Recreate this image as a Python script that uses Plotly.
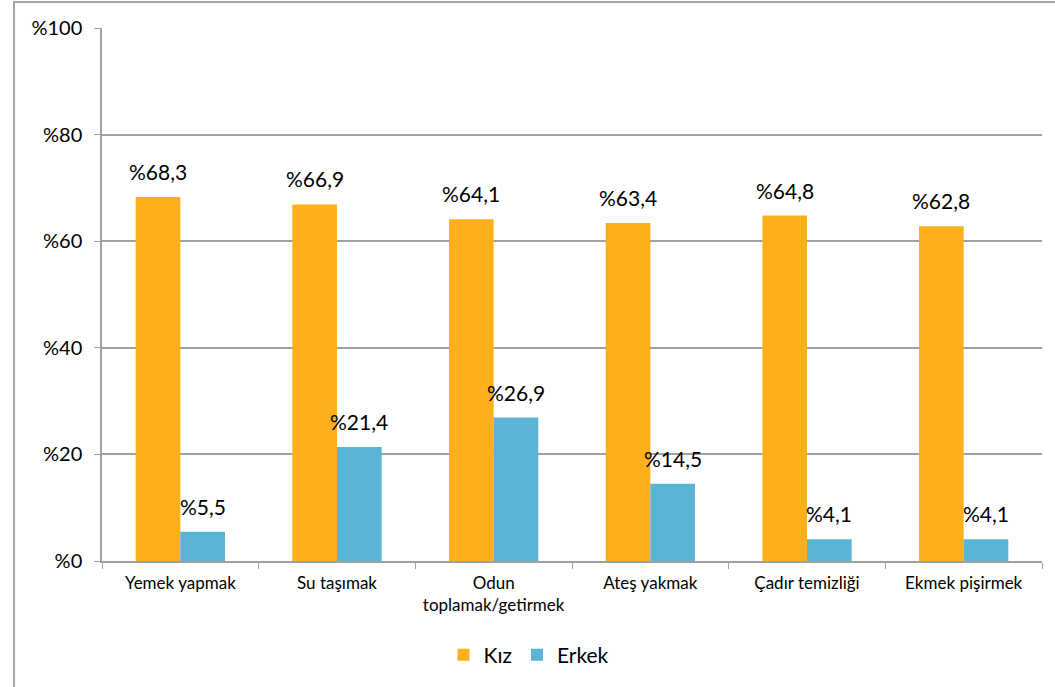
import plotly.graph_objects as go

categories = ["Yemek yapmak", "Su taşımak", "Odun<br>toplamak/getirmek", "Ateş yakmak", "Çadır temizliği", "Ekmek pişirmek"]
kiz = [68.3, 66.9, 64.1, 63.4, 64.8, 62.8]
erkek = [5.5, 21.4, 26.9, 14.5, 4.1, 4.1]
y_ticks = [0, 20, 40, 60, 80, 100]
y_tick_labels = ["%0", "%20", "%40", "%60", "%80", "%100"]

ORANGE = "#FDB01B"
BLUE = "#5BB4D4"
FONT = "Lato"

def fmt(v):
    return "%" + f"{v:.1f}".replace(".", ",")

fig = go.Figure()
fig.add_trace(go.Bar(name="Kız", x=categories, y=kiz, marker_color=ORANGE, marker_line_width=0))
fig.add_trace(go.Bar(name="Erkek", x=categories, y=erkek, marker_color=BLUE, marker_line_width=0))

W, H = 1055, 687
ml, mr, mt, mb = 102, 13, 28, 126
plot_w = W - ml - mr
plot_h = H - mt - mb
bar_w = plot_w / len(categories) * (1 - 0.43) / 2

annotations = []
for series, sign in ((kiz, -1), (erkek, 1)):
    for c, v in zip(categories, series):
        annotations.append(dict(x=c, y=v, xref="x", yref="y", text=fmt(v), showarrow=False,
                                xshift=sign * bar_w / 2, yshift=11, yanchor="bottom",
                                font=dict(family=FONT, size=21, color="#000000")))

fig.add_shape(type="rect", xref="paper", yref="paper",
              x0=(14 - ml) / plot_w, x1=(W + 20 - ml) / plot_w,
              y0=(H - mb - (H + 20)) / plot_h, y1=(H - mb - 2) / plot_h,
              line=dict(color="#A6A6A6", width=2), fillcolor="rgba(0,0,0,0)", layer="below")

fig.update_layout(
    width=W, height=H,
    margin=dict(l=ml, r=mr, t=mt, b=mb),
    barmode="group", bargap=0.43, bargroupgap=0,
    plot_bgcolor="white", paper_bgcolor="white",
    font=dict(family=FONT, color="#000000"),
    annotations=annotations,
    legend=dict(orientation="h", x=(529 - ml) / plot_w, xanchor="center",
                y=-(655 - (H - mb)) / plot_h, yanchor="middle",
                font=dict(family=FONT, size=21), itemwidth=30, tracegroupgap=0),
    xaxis=dict(showline=True, linecolor="#A0A0A0", linewidth=1.5, ticks="outside", tickson="boundaries",
               ticklen=6, tickcolor="#A0A0A0", tickfont=dict(family=FONT, size=17), showgrid=False,
               ticklabelstandoff=6),
    yaxis=dict(range=[0, 100], tickvals=y_ticks, ticktext=y_tick_labels, showline=True,
               linecolor="#A0A0A0", linewidth=1.5, ticks="outside", ticklen=6, tickcolor="#A0A0A0",
               gridcolor="#A0A0A0", gridwidth=1.5, tickfont=dict(family=FONT, size=20), zeroline=False,
               ticklabelstandoff=8),
)

fig.write_html("out.html", config={"displayModeBar": False},
               post_script="document.body.style.margin='0';document.body.style.overflow='hidden';")
